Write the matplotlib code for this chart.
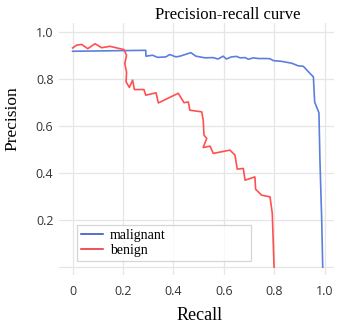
import matplotlib
matplotlib.use("Agg")
import matplotlib.pyplot as plt
from matplotlib.lines import Line2D

# malignant curve
mal_recall = [0, 0.29, 0.291, 0.317, 0.337, 0.37, 0.385, 0.41, 0.426, 0.469, 0.489,
              0.525, 0.557, 0.577, 0.597, 0.61, 0.63, 0.65, 0.664, 0.684, 0.697, 0.717,
              0.737, 0.77, 0.783, 0.797, 0.829, 0.869, 0.895, 0.915, 0.935, 0.955,
              0.96, 0.977, 0.981, 0.988, 0.992]
mal_prec = [0.919, 0.923, 0.898, 0.902, 0.893, 0.895, 0.905, 0.895, 0.898, 0.913, 0.898,
            0.891, 0.892, 0.886, 0.898, 0.886, 0.895, 0.897, 0.891, 0.892, 0.885, 0.891,
            0.888, 0.888, 0.887, 0.879, 0.876, 0.868, 0.857, 0.855, 0.832, 0.81,
            0.703, 0.657, 0.455, 0.2, 0.0]

# benign curve
ben_recall = [0, 0.016, 0.036, 0.06, 0.089, 0.115, 0.148, 0.188, 0.204, 0.214, 0.207,
              0.214, 0.212, 0.225, 0.238, 0.245, 0.283, 0.29, 0.331, 0.34, 0.419, 0.442,
              0.459, 0.465, 0.512, 0.518, 0.521, 0.532, 0.518, 0.545, 0.558, 0.624,
              0.644, 0.653, 0.677, 0.684, 0.723, 0.726, 0.75, 0.783, 0.792, 0.799]
ben_prec = [0.933, 0.945, 0.948, 0.93, 0.951, 0.934, 0.94, 0.93, 0.926, 0.902, 0.866,
            0.83, 0.789, 0.765, 0.796, 0.756, 0.756, 0.732, 0.742, 0.699, 0.74, 0.70,
            0.703, 0.668, 0.661, 0.626, 0.562, 0.548, 0.509, 0.515, 0.484, 0.498,
            0.477, 0.417, 0.42, 0.37, 0.384, 0.331, 0.306, 0.299, 0.228, 0.0]

x_ticks = [0, 0.2, 0.4, 0.6, 0.8, 1.0]
x_labels = ["0", "0.2", "0.4", "0.6", "0.8", "1.0"]
y_ticks = [0, 0.2, 0.4, 0.6, 0.8, 1.0]
y_labels = ["", "0.2", "0.4", "0.6", "0.8", "1.0"]

serif = "Liberation Serif"
sans = "Open Sans"

fig = plt.figure(figsize=(3.46, 3.31), dpi=100)
ax = fig.add_axes([0.1705, 0.169, 0.795, 0.762])

ax.plot(mal_recall, mal_prec, color="#5a80dd", linewidth=1.2)
ax.plot(ben_recall, ben_prec, color="#ff5050", linewidth=1.2)

ax.set_xlim(-0.054, 1.037)
ax.set_ylim(-0.034, 1.04)
ax.set_xticks(x_ticks)
ax.set_xticklabels(x_labels, fontfamily=sans, fontsize=9, color="#333333")
ax.set_yticks(y_ticks)
ax.set_yticklabels(y_labels, fontfamily=sans, fontsize=9, color="#333333")
ax.tick_params(length=0)
ax.tick_params(axis="x", pad=7)
ax.tick_params(axis="y", pad=4)
ax.grid(color="#e6e6e6", linewidth=0.9)
ax.set_axisbelow(True)
for s in ax.spines.values():
    s.set_visible(False)

handles = [Line2D([], [], color="#2348c8", linewidth=1.1),
           Line2D([], [], color="#e8252a", linewidth=1.1)]
leg = ax.legend(handles, ["malignant", "benign"], loc="lower left",
                bbox_to_anchor=(0.064, 0.055, 0.633, 0.136), mode="expand",
                prop={"family": serif, "size": 10}, frameon=True, fancybox=False,
                borderpad=0.3, handlelength=1.6, handletextpad=0.5,
                labelspacing=0.15, borderaxespad=0)
leg.get_frame().set_edgecolor("#cccccc")
leg.get_frame().set_linewidth(0.9)

fig.text(228 / 346, 1 - 15 / 331, "Precision-recall curve", fontfamily=serif,
         fontsize=12, ha="center", va="center")
fig.text(12 / 346, 1 - 119 / 331, "Precision", fontfamily=serif, fontsize=12.5,
         rotation=90, ha="center", va="center")
fig.text(199.5 / 346, 1 - 316 / 331, "Recall", fontfamily=serif, fontsize=13,
         ha="center", va="center")

fig.savefig("out.png", dpi=100)
